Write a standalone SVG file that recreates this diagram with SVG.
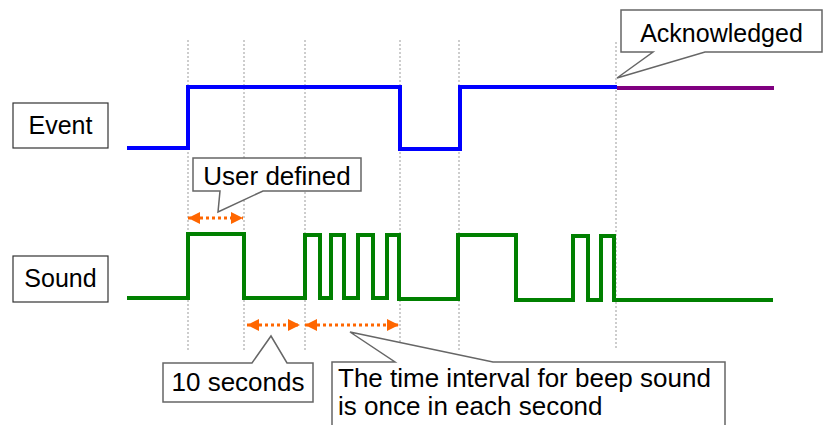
<svg xmlns="http://www.w3.org/2000/svg" width="825" height="425" viewBox="0 0 825 425">
<style>
text{font-family:"Liberation Sans",Arial,sans-serif;fill:#000}
.lbl{fill:#fff;stroke:#333;stroke-width:1.2}
.call{fill:#fff;stroke:#666;stroke-width:1.5;stroke-linejoin:miter}
.grid{stroke:#bdbdbd;stroke-width:1.5;stroke-dasharray:2 2;fill:none}
.wave{fill:none;stroke-width:4;stroke-linejoin:miter}
.oarr{stroke:#ff6600;stroke-width:3;stroke-dasharray:3 3;fill:none}
</style>
<defs>
<marker id="ah" markerUnits="userSpaceOnUse" markerWidth="14" markerHeight="14" refX="12" refY="7" orient="auto-start-reverse">
<path d="M0,1 L12,7 L0,13 Z" fill="#ff6600"/>
</marker>
</defs>
<rect width="825" height="425" fill="#fff"/>
<g id="grid">
<line class="grid" x1="188" y1="40" x2="188" y2="350"/>
<line class="grid" x1="244" y1="40" x2="244" y2="350"/>
<line class="grid" x1="305" y1="40" x2="305" y2="350"/>
<line class="grid" x1="400" y1="40" x2="400" y2="350"/>
<line class="grid" x1="459" y1="40" x2="459" y2="350"/>
<line class="grid" x1="616" y1="42" x2="616" y2="350"/>
</g>
<g id="event-wave">
<path class="wave" stroke="#0000ff" d="M127,148 H188 V87 H400 V149 H460 V87 H617"/>
<path class="wave" stroke="#800080" d="M617,88 H774"/>
</g>
<g id="sound-wave">
<path class="wave" stroke="#008000" d="M127,298 H188 V234 H244 V298 H305 V235 H320 V298 H331 V235 H344 V298 H358 V235 H373 V298 H387 V235 H399 V299 H458 V235 H516 V300 H573 V236 H588 V300 H601 V236 H614 V300 H773"/>
</g>
<g id="event-label">
<rect class="lbl" x="13" y="103" width="95" height="45"/>
<text x="60.5" y="134" font-size="25" text-anchor="middle">Event</text>
</g>
<g id="sound-label">
<rect class="lbl" x="13" y="256" width="95" height="46"/>
<text x="60.5" y="287" font-size="25" text-anchor="middle">Sound</text>
</g>
<g id="connectors">
<line class="oarr" x1="188" y1="218" x2="243" y2="218" marker-start="url(#ah)" marker-end="url(#ah)"/>
<line class="oarr" x1="247" y1="325" x2="300" y2="325" marker-start="url(#ah)" marker-end="url(#ah)"/>
<line class="oarr" x1="305" y1="325" x2="399" y2="325" marker-start="url(#ah)" marker-end="url(#ah)"/>
</g>
<g id="acknowledged">
<path class="call" d="M621,10 H822 V52 H705 L617,78 L653,52 H621 Z"/>
<text x="721.5" y="42" font-size="25" text-anchor="middle">Acknowledged</text>
</g>
<g id="user-defined">
<path class="call" d="M193,158 H361 V191 H263 L218,212 L220,191 H193 Z"/>
<text x="277" y="185" font-size="26" text-anchor="middle">User defined</text>
</g>
<g id="ten-seconds">
<path class="call" d="M163,363 H252 L271,336 L287,363 H313 V402 H163 Z"/>
<text x="238" y="391" font-size="26" text-anchor="middle">10 seconds</text>
</g>
<g id="beep-interval">
<path class="call" d="M332,430 V362 H395 L350,332 L493,362 H725 V430"/>
<text x="338" y="387" font-size="26">The time interval for beep sound</text>
<text x="338" y="415" font-size="26">is once in each second</text>
</g>
</svg>
